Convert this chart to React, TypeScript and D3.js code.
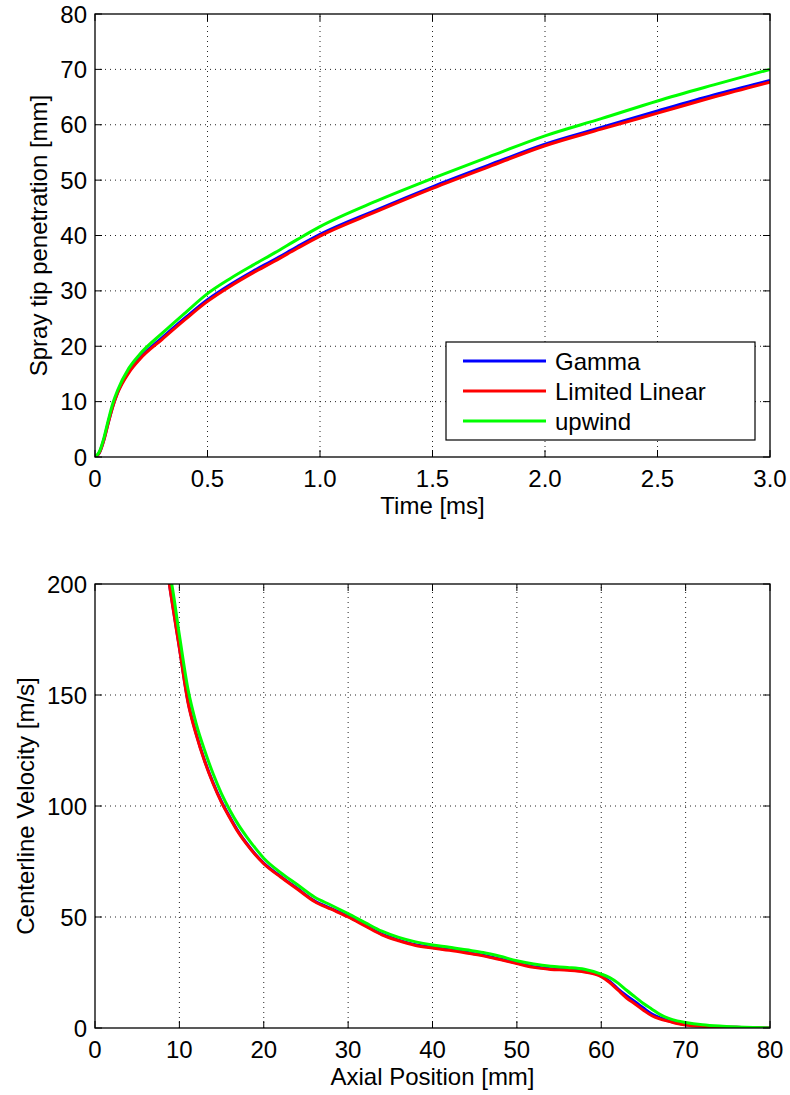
import React from "react";
import * as d3 from "d3";

// ---------- Top chart data: spray tip penetration ----------
const timeMs = [0, 0.02, 0.04, 0.06, 0.08, 0.1, 0.15, 0.2, 0.3, 0.4, 0.5, 0.6, 0.7, 0.8, 0.9, 1.0, 1.25, 1.5, 1.75, 2.0, 2.25, 2.5, 2.75, 3.0];
const penGamma = [0, 0.8, 3.2, 6.4, 9.3, 11.6, 15.4, 17.9, 21.6, 25.1, 28.4, 31.1, 33.5, 35.7, 38.0, 40.2, 44.6, 48.8, 52.7, 56.5, 59.5, 62.5, 65.4, 68.0];
const penLimitedLinear = [0, 0.8, 3.1, 6.3, 9.2, 11.5, 15.2, 17.7, 21.3, 24.8, 28.1, 30.8, 33.2, 35.4, 37.7, 39.9, 44.3, 48.5, 52.4, 56.2, 59.2, 62.1, 65.0, 67.7];
const penUpwind = [0, 1.0, 3.5, 6.8, 9.8, 12.0, 16.0, 18.6, 22.4, 26.0, 29.5, 32.2, 34.6, 36.9, 39.3, 41.6, 46.2, 50.3, 54.2, 58.0, 61.1, 64.3, 67.2, 70.0];

// ---------- Bottom chart data: centerline velocity ----------
const axialMm = [8.5, 9, 10, 11, 12, 13, 14, 15, 16, 17, 18, 19, 20, 22, 24, 26, 28, 30, 32, 34, 36, 38, 40, 42, 44, 46, 48, 50, 52, 54, 56, 58, 60, 61, 62, 63, 64, 65, 66, 67, 68, 69, 70, 72, 74, 76, 78, 80];
const velLimitedLinear = [208, 195, 171, 147, 132, 120, 110, 101.5, 94.5, 88, 82.7, 78, 74, 68, 62.5, 57, 53.5, 50, 46, 42, 39.3, 37.2, 36, 35, 33.8, 32.5, 30.8, 29, 27.3, 26.4, 26, 25.2, 23.1, 20.5, 17, 13.5, 10.8, 8, 5.5, 4, 3, 2, 1.4, 0.8, 0.5, 0.3, 0.1, 0];
const velGamma = [208, 195.5, 171.5, 147.5, 132.5, 120.4, 110.4, 101.9, 94.9, 88.4, 83, 78.3, 74.3, 68.3, 62.8, 57.3, 53.8, 50.3, 46.3, 42.3, 39.6, 37.5, 36.3, 35.3, 34.1, 32.8, 31.1, 29.3, 27.6, 26.7, 26.3, 25.5, 23.4, 21, 17.5, 14.5, 11.8, 9, 6.3, 4.5, 3.2, 2.2, 1.5, 0.9, 0.5, 0.3, 0.1, 0];
const velUpwind = [210, 202, 177, 153, 137, 125, 114.5, 105.5, 98, 91.5, 86, 81, 76.5, 70, 64.5, 59, 55.3, 51.5, 47.5, 43.6, 40.8, 38.8, 37.4, 36.4, 35.2, 34, 32.3, 30.3, 28.8, 27.8, 27.3, 26.5, 24.3, 22.7, 20.2, 17, 14, 11, 8.5, 6, 4.3, 3.2, 2.5, 1.5, 0.9, 0.5, 0.2, 0];

const seriesNames = ["Gamma", "Limited Linear", "upwind"];
const seriesColors = ["#0000ff", "#ff0000", "#00ff00"];

const timeTicks = [0, 0.5, 1.0, 1.5, 2.0, 2.5, 3.0];
const timeTickLabels = ["0", "0.5", "1.0", "1.5", "2.0", "2.5", "3.0"];
const penTicks = [0, 10, 20, 30, 40, 50, 60, 70, 80];
const axialTicks = [0, 10, 20, 30, 40, 50, 60, 70, 80];
const velTicks = [0, 50, 100, 150, 200];

const FONT = "'Liberation Sans', Arial, Helvetica, sans-serif";
const FS = 24;

type PanelProps = {
  id: string;
  x: d3.ScaleLinear<number, number>;
  y: d3.ScaleLinear<number, number>;
  xTicks: number[];
  xLabels: string[];
  yTicks: number[];
  xTitle: string;
  yTitle: string;
  yTitleX: number;
  xs: number[];
  series: number[][];
  legend?: boolean;
};

function Panel(p: PanelProps) {
  const [x0, x1] = p.x.range();
  const [yb, yt] = p.y.range();
  const tick = 7;
  const line = d3
    .line<[number, number]>()
    .x((d) => p.x(d[0]))
    .y((d) => p.y(d[1]))
    .curve(d3.curveMonotoneX);
  return (
    <g>
      <defs>
        <clipPath id={p.id}>
          <rect x={x0} y={yt} width={x1 - x0} height={yb - yt} />
        </clipPath>
      </defs>
      <rect x={x0} y={yt} width={x1 - x0} height={yb - yt} fill="#fff" />
      {/* grid */}
      {p.xTicks.map((t, i) =>
        i === 0 || i === p.xTicks.length - 1 ? null : (
          <line key={"gx" + i} x1={p.x(t)} x2={p.x(t)} y1={yb} y2={yt} stroke="#222" strokeWidth={1} strokeDasharray="1,4" />
        )
      )}
      {p.yTicks.map((t, i) =>
        i === 0 || i === p.yTicks.length - 1 ? null : (
          <line key={"gy" + i} x1={x0} x2={x1} y1={p.y(t)} y2={p.y(t)} stroke="#222" strokeWidth={1} strokeDasharray="1,4" />
        )
      )}
      {/* data */}
      <g clipPath={`url(#${p.id})`}>
        {p.series.map((s, i) => (
          <path
            key={"s" + i}
            d={line(p.xs.map((v, j) => [v, s[j]] as [number, number])) || ""}
            fill="none"
            stroke={seriesColors[i]}
            strokeWidth={3}
            strokeLinejoin="round"
          />
        ))}
      </g>
      {/* ticks */}
      {p.xTicks.map((t, i) => (
        <g key={"tx" + i}>
          <line x1={p.x(t)} x2={p.x(t)} y1={yb} y2={yb - tick} stroke="#000" strokeWidth={1} />
          <line x1={p.x(t)} x2={p.x(t)} y1={yt} y2={yt + tick} stroke="#000" strokeWidth={1} />
          <text x={p.x(t)} y={yb + 30} textAnchor="middle" fontSize={FS} fontFamily={FONT} fill="#000">
            {p.xLabels[i]}
          </text>
        </g>
      ))}
      {p.yTicks.map((t, i) => (
        <g key={"ty" + i}>
          <line x1={x0} x2={x0 + tick} y1={p.y(t)} y2={p.y(t)} stroke="#000" strokeWidth={1} />
          <line x1={x1} x2={x1 - tick} y1={p.y(t)} y2={p.y(t)} stroke="#000" strokeWidth={1} />
          <text x={x0 - 8} y={p.y(t) + 8.5} textAnchor="end" fontSize={FS} fontFamily={FONT} fill="#000">
            {String(t)}
          </text>
        </g>
      ))}
      <rect x={x0} y={yt} width={x1 - x0} height={yb - yt} fill="none" stroke="#000" strokeWidth={1.3} />
      <text x={(x0 + x1) / 2} y={yb + 57} textAnchor="middle" fontSize={FS} fontFamily={FONT} fill="#000">
        {p.xTitle}
      </text>
      <text
        transform={`translate(${p.yTitleX},${(yb + yt) / 2}) rotate(-90)`}
        textAnchor="middle"
        fontSize={FS}
        fontFamily={FONT}
        fill="#000"
      >
        {p.yTitle}
      </text>
      {p.legend ? (
        <g>
          <rect x={446} y={342} width={309} height={98} fill="#fff" stroke="#000" strokeWidth={1.2} />
          {seriesNames.map((n, i) => (
            <g key={"lg" + i}>
              <line x1={463} x2={546} y1={361 + i * 30} y2={361 + i * 30} stroke={seriesColors[i]} strokeWidth={3} />
              <text x={555} y={361 + i * 30 + 8.5} fontSize={FS} fontFamily={FONT} fill="#000">
                {n}
              </text>
            </g>
          ))}
        </g>
      ) : null}
    </g>
  );
}

export default function App() {
  const xTop = d3.scaleLinear().domain([0, 3]).range([95, 770]);
  const yTop = d3.scaleLinear().domain([0, 80]).range([457, 14]);
  const xBot = d3.scaleLinear().domain([0, 80]).range([95, 770]);
  const yBot = d3.scaleLinear().domain([0, 200]).range([1028, 584]);
  return (
    <div style={{ position: "absolute", left: 0, top: 0 }}>
      <svg width={790} height={1095} style={{ display: "block", background: "#fff" }}>
        <rect x={0} y={0} width={790} height={1095} fill="#fff" />
        <Panel
          id="clipTop"
          x={xTop}
          y={yTop}
          xTicks={timeTicks}
          xLabels={timeTickLabels}
          yTicks={penTicks}
          xTitle="Time [ms]"
          yTitle="Spray tip penetration [mm]"
          yTitleX={47}
          xs={timeMs}
          series={[penGamma, penLimitedLinear, penUpwind]}
          legend
        />
        <Panel
          id="clipBot"
          x={xBot}
          y={yBot}
          xTicks={axialTicks}
          xLabels={axialTicks.map(String)}
          yTicks={velTicks}
          xTitle="Axial Position [mm]"
          yTitle="Centerline Velocity [m/s]"
          yTitleX={34}
          xs={axialMm}
          series={[velGamma, velLimitedLinear, velUpwind]}
        />
      </svg>
    </div>
  );
}
